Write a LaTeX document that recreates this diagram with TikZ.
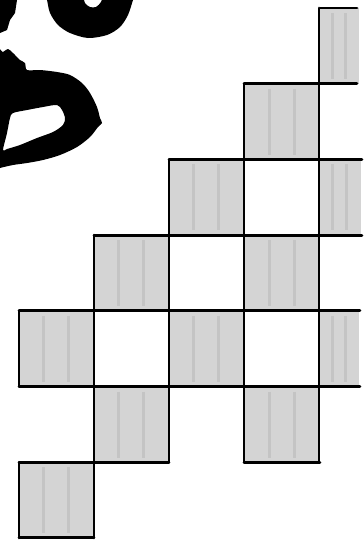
\documentclass[tikz,border=0pt]{standalone}
\usepackage{tikz}
\usetikzlibrary{calc}

\begin{document}
\begin{tikzpicture}[x=1pt,y=-1pt,
    cell/.style={fill=black!17},
    streak/.style={draw=black!23,line width=3pt},
    grid line/.style={line width=2.9pt,line cap=round},
    ink/.style={fill=black,even odd rule}]
\useasboundingbox (0,0) rectangle (364,542);
% shaded squares: column / row / width
\foreach \c/\r/\w in {4/0/40,3/1/76,2/2/75,4/2/42,1/3/75,3/3/76,
                      0/4/75,2/4/75,4/4/40,1/5/75,3/5/76,0/6/75}{
  \coordinate (nw) at ({19+75*\c},{8+75.7*\r});
  \fill[cell] (nw) rectangle ++(\w,75.7);
  \draw[streak] ($(nw)+(0.33*\w,5)$) -- ++(0,66);
  \draw[streak] ($(nw)+(0.66*\w,5)$) -- ++(0,66);
}
% horizontal lines: row / from / to
\foreach \r/\a/\b in {0/320/357,1/244/357,2/169/362,3/94/362,4/19/360,
                      5/19/360,6/19/169,6/244/320,7/19/94}
  \draw[grid line] (\a,{8+75.7*\r}) -- (\b,{8+75.7*\r});
% vertical lines: column / from row / to row
\foreach \c/\a/\b in {0/4/5,0/6/7,1/3/7,2/2/6,3/1/6,4/0/6}
  \draw[grid line] ({19+75*\c},{8+75.7*\a}) -- ({19+75*\c},{8+75.7*\b});
% marker strokes, top left
\fill[ink] (-5,0) -- (17,0) -- (15,13) -- (10,20) -- (7,30) -- (0,33)
  -- (-5,33) -- cycle;
\fill[ink] plot[smooth] coordinates {(45,-5) (47,0) (50,13) (58,25) (70,33)
    (88,38) (107,35) (120,27) (128,15) (133,0) (135,-5)}
  -- plot[smooth] coordinates {(103,-5) (101,2) (96,7) (90,7) (85,3) (83,-5)}
  -- cycle;
\fill[ink] plot[smooth cycle] coordinates {(-5,55) (3,52) (8,49) (13,53)
    (20,60) (25,63) (27,70) (40,70) (57,72) (70,75) (82,83) (90,93)
    (97,107) (100,118) (102,123) (98,127) (90,137) (77,147) (60,155)
    (43,160) (27,163) (13,165) (0,168) (-5,170)}
  plot[smooth cycle] coordinates {(3,150) (7,133) (10,118) (13,113)
    (27,110) (43,107) (57,105) (62,110) (65,118) (63,125) (53,132)
    (37,138) (20,145) (7,149)};
\end{tikzpicture}
\end{document}
